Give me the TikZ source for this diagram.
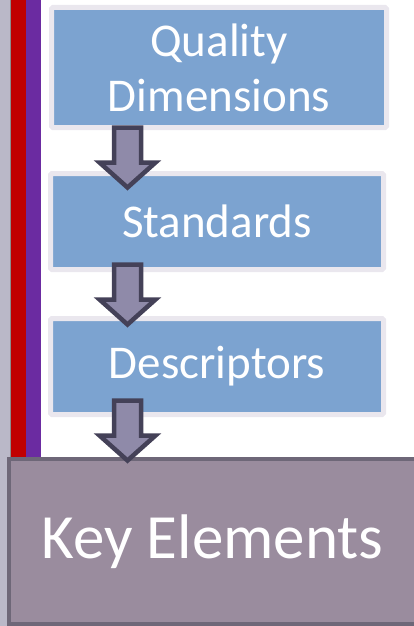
\documentclass[tikz,border=0pt]{standalone}
\usepackage{fontspec}
\setmainfont{Carlito}
\usetikzlibrary{calc}
\definecolor{sidegray}{HTML}{BAB8C8}
\definecolor{sidered}{HTML}{C00000}
\definecolor{sidepurple}{HTML}{6B2BA1}
\definecolor{stepblue}{HTML}{7CA3D0}
\definecolor{stepedge}{HTML}{EAE7EE}
\definecolor{arrowfill}{HTML}{8F8AA9}
\definecolor{arrowedge}{HTML}{444158}
\definecolor{keyfill}{HTML}{9A8C9E}
\definecolor{keyedge}{HTML}{6E6778}
\tikzset{
  stepbox/.style={draw=stepedge, line width=5pt, fill=stepblue, rounded corners=1.5pt,
    text=white, align=center, inner sep=0pt,
    font=\fontsize{47}{55}\selectfont},
  keybox/.style={draw=keyedge, line width=4pt, fill=keyfill, inner sep=0pt,
    text=white, font=\fontsize{63}{70}\selectfont},
  flowarrow/.style={draw=arrowedge, fill=arrowfill, line width=4.5pt, line join=miter},
}
% hollow block arrow pointing down from a given top-centre point
\newcommand\blockarrow[1]{%
  \draw[flowarrow] ($(#1)+(-13.5,0)$) -- ++(0,35) -- ++(-14.5,0) -- ++(28,25)
    -- ++(28,-25) -- ++(-14.5,0) -- ++(0,-35) -- cycle;}
\begin{document}
\begin{tikzpicture}[x=1pt,y=-1pt]
\useasboundingbox (0,0) rectangle (414,626);
% coloured side bands
\fill[sidegray] (0,0) rectangle (10,626);
\fill[black!45] (10,0) rectangle (11,626);
\fill[sidered] (11,0) rectangle (26,460);
\fill[sidepurple] (26,0) rectangle (41,460);

% step boxes
\node[stepbox, minimum width=335pt, minimum height=120pt] (quality) at (219,67.5)
  {Quality\\Dimensions};
\node[stepbox, minimum width=333pt, minimum height=96pt] (standards) at (217,221.5)
  {Standards};
\node[stepbox, minimum width=333pt, minimum height=96pt] (descriptors) at (217,366.5)
  {Descriptors};
\node[keybox, minimum width=411pt, minimum height=165pt] (key) at (214.5,541.5)
  {\hspace*{-4pt}Key Elements};

% arrow tops
\coordinate (a1) at (127.5,127.5);
\coordinate (a2) at (127.5,264.5);
\coordinate (a3) at (127.5,400.5);
\blockarrow{a1}
\blockarrow{a2}
\blockarrow{a3}
\end{tikzpicture}
\end{document}
